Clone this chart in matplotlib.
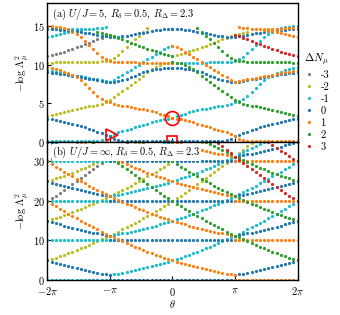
import numpy as np
import matplotlib.pyplot as plt
from matplotlib.lines import Line2D

plt.rcParams['font.family'] = 'serif'
plt.rcParams['font.serif'] = ['cmr10']
plt.rcParams['mathtext.fontset'] = 'cm'
plt.rcParams['axes.formatter.use_mathtext'] = True
plt.rcParams['font.size'] = 7.5

SECTORS = [-3, -2, -1, 0, 1, 2, 3]
COLORS = ['#7f7f7f', '#bcbd22', '#17becf', '#1f77b4', '#ff7f0e', '#2ca02c', '#d62728']
STEPS = 15  # samples per pi

# ---- panel (b): U/J = inf ----
# flat levels around each sector centre (theta = 2 pi dN)
flat_b = [0, 10, 20, 30]
# arc beyond the flat part, one value per step, starting at distance pi from the centre
arc_b = [1.25, 1.42, 1.61, 1.80, 2.01, 2.22, 2.45, 2.69, 2.94, 3.20, 3.47, 3.76,
         4.05, 4.36, 4.67, 5.00, 5.34, 5.69, 6.05, 6.42, 6.81, 7.20, 7.61, 8.02,
         8.45, 8.89, 9.34, 9.80, 10.27, 10.76, 11.25, 11.76, 12.27, 12.80, 13.34,
         13.89, 14.45, 15.02, 15.61, 16.20, 16.81, 17.42, 18.05, 18.69, 19.34,
         20.00, 20.67, 21.36, 22.05, 22.76, 23.47, 24.20, 24.94, 25.69, 26.45,
         27.22, 28.01, 28.80, 29.61, 30.42, 31.25, 32.09, 32.94, 33.80, 34.67, 35.56]

# ---- panel (a): U/J = 5 ----
# left half only (theta = -2pi + k*pi/15, k from the start index); right half by symmetry
a_cyan_low = [0.03, 0.03, 0.03, 0.03, 0.03, 0.03, 0.03, 0.03, 0.03, 0.03, 0.03,
              0.05, 0.1, 0.2, 0.4, 0.75, 1.05, 1.2, 1.35, 1.5, 1.7, 1.85, 2.05,
              2.2, 2.35, 2.5, 2.65, 2.8, 2.9, 3.0, 3.1]
a_blue_low = [3.0, 2.9, 2.78, 2.66, 2.55, 2.42, 2.3, 2.17, 2.03, 1.86, 1.7, 1.5,
              1.3, 1.1, 0.9, 0.75, 0.4, 0.2, 0.1, 0.05, 0.03, 0.03, 0.03, 0.03,
              0.03, 0.03, 0.03, 0.03, 0.03, 0.03, 0.03]
a_yellow_low = [3.4, 3.5, 3.6, 3.75, 3.85, 3.95, 4.1, 4.2, 4.35, 4.5, 4.6, 4.7,
                4.8, 4.95, 5.1, 5.4, 5.8, 6.2, 6.6, 7.0, 7.4, 7.8, 8.2, 8.6,
                9.0, 9.4, 9.7, 10.0, 10.2, 10.3, 10.4]
a_yellow_mid = [10.2, 10.3, 10.35, 10.4, 10.4, 10.4, 10.4, 10.4, 10.4, 10.4,
                10.4, 10.4, 10.4, 10.45, 10.5, 10.6, 10.9, 11.3, 11.8, 12.3,
                12.8, 13.3, 13.8, 14.3, 14.8]
a_orange_mid = [9.7, 9.6, 9.5, 9.3, 9.1, 8.9, 8.7, 8.4, 8.0, 7.5, 7.0, 6.5, 6.0,
                5.6, 5.3, 5.1, 4.95, 4.8, 4.7, 4.6, 4.5, 4.4, 4.3, 4.2, 4.1,
                3.95, 3.8, 3.65, 3.5, 3.3, 3.1]
a_blue_mid = [9.0, 8.95, 8.9, 8.85, 8.8, 8.7, 8.6, 8.5, 8.4, 8.3, 8.2, 8.1, 8.0,
              7.9, 7.8, 7.7, 7.8, 7.9, 8.0, 8.2, 8.4, 8.6, 8.8, 9.0, 9.15, 9.3,
              9.4, 9.5, 9.55, 9.6, 9.6]
a_cyan_mid = [9.3, 9.2, 9.1, 9.0, 8.9, 8.8, 8.7, 8.6, 8.5, 8.4, 8.3, 8.2, 8.1,
              8.0, 7.9, 7.8, 8.05, 8.35, 8.7, 9.0, 9.35, 9.7, 10.0, 10.35, 10.7,
              11.0, 11.35, 11.7, 12.0, 12.3, 12.5]
a_gray = [11.1, 11.25, 11.4, 11.55, 11.7, 11.9, 12.1, 12.3, 12.5, 12.7, 12.9,
          13.1, 13.3, 13.5, 13.7, 13.9]
a_orange_top = [15.0, 15.0, 14.95, 14.9, 14.8, 14.6, 14.3, 14.0, 13.6, 13.1, 12.6,
                12.0, 11.5, 11.0, 10.7, 10.5, 10.4, 10.4, 10.4, 10.4, 10.35,
                10.35, 10.3, 10.3, 10.3, 10.3, 10.3, 10.3, 10.3, 10.3, 10.3]
a_green_upper = [14.3, 14.1, 14.0, 13.9, 13.7, 13.5, 13.3, 13.1, 12.9, 12.7, 12.5,
                 12.3, 12.1, 11.9, 11.75, 11.6, 11.45, 11.3, 11.2]
a_blue_top = [14.6, 14.6, 14.6, 14.55, 14.5, 14.5, 14.4, 14.35, 14.3, 14.2, 14.1,
              14.0, 13.9, 13.8, 13.7, 13.6, 13.6, 13.65, 13.7, 13.8, 13.9, 14.0,
              14.1, 14.2, 14.3, 14.4, 14.5, 14.55, 14.6, 14.65, 14.7]
a_cyan_top = [14.9, 14.85, 14.8, 14.75, 14.7, 14.65, 14.6, 14.6, 14.6, 14.6, 14.65,
              14.7, 14.75, 14.8, 14.9]
a_cyan_13 = [13.6, 13.75, 13.9, 14.05, 14.2, 14.3, 14.4, 14.45, 14.5]

# (sector, first index k, values)
a_branches = [(-1, 0, a_cyan_low), (0, 0, a_blue_low), (-2, 0, a_yellow_low),
              (-2, 0, a_yellow_mid), (1, 0, a_orange_mid), (0, 0, a_blue_mid),
              (-1, 0, a_cyan_mid), (-3, 0, a_gray), (1, 0, a_orange_top),
              (2, 12, a_green_upper), (0, 0, a_blue_top), (-1, 0, a_cyan_top),
              (-1, 0, a_cyan_13)]


def build_b():
    pts = {n: ([], []) for n in SECTORS}
    for n in SECTORS:
        for lev in flat_b:
            for i in range(-2 * STEPS, 2 * STEPS + 1):
                dist = abs(i - 2 * STEPS * n)
                if dist <= STEPS:
                    pts[n][0].append(i / STEPS)
                    pts[n][1].append(lev)
                if dist >= STEPS and dist - STEPS < len(arc_b):
                    pts[n][0].append(i / STEPS)
                    pts[n][1].append(lev + arc_b[dist - STEPS])
    return pts


def build_a():
    pts = {n: ([], []) for n in SECTORS}
    for n, start, vals in a_branches:
        for k, v in enumerate(vals):
            th = -2 + (start + k) / STEPS
            pts[n][0].append(th)
            pts[n][1].append(v)
            pts[-n][0].append(-th)
            pts[-n][1].append(v)
    return pts


fig = plt.figure(figsize=(3.4, 3.15), dpi=100)
ax_a = fig.add_axes([0.1397, 0.5502, 0.7353, 0.4393])
ax_b = fig.add_axes([0.1397, 0.1111, 0.7353, 0.4391])

for ax, pts in [(ax_a, build_a()), (ax_b, build_b())]:
    for n, c in zip(SECTORS, COLORS):
        x, y = pts[n]
        ax.plot(np.array(x) * np.pi, y, 'o', color=c, ms=2.3, mew=0, zorder=2)
    ax.set_xlim(-2 * np.pi, 2 * np.pi)
    ax.set_xticks([-2 * np.pi, -np.pi, 0, np.pi, 2 * np.pi])
    ax.tick_params(direction='in', length=3, width=0.8, labelsize=7.5)
    ax.tick_params(axis='y', pad=2)
    ax.tick_params(axis='x', pad=4)
    for s in ax.spines.values():
        s.set_linewidth(1.0)
    ax.set_ylabel(r'$-\log\,\Lambda_\mu^2$', labelpad=2)

ax_a.set_ylim(0, 18)
ax_a.set_yticks([0, 5, 10, 15])
ax_a.set_xticklabels([])
ax_b.set_ylim(0, 35)
ax_b.set_yticks([0, 10, 20, 30])
ax_b.set_xticklabels([r'$-2\pi$', r'$-\pi$', r'$0$', r'$\pi$', r'$2\pi$'])
ax_b.set_xlabel(r'$\theta$', labelpad=0)

ax_a.text(0.02, 0.975, r'(a) $U/J=5,\,R_\delta=0.5,\,R_\Delta=2.3$', transform=ax_a.transAxes,
          va='top', ha='left', fontsize=7.5, zorder=5,
          bbox=dict(fc='white', ec='none', pad=0.5))
ax_b.text(0.02, 0.975, r'(b) $U/J=\infty,\,R_\delta=0.5,\,R_\Delta=2.3$', transform=ax_b.transAxes,
          va='top', ha='left', fontsize=7.5, zorder=5,
          bbox=dict(fc='white', ec='none', pad=0.5))

# highlighted points
ax_a.plot(0, 3.1, 'o', ms=10, mfc='none', mec='red', mew=1.2, zorder=6)
ax_a.plot(-0.97 * np.pi, 0.85, '>', ms=8, mfc='none', mec='red', mew=1.2, zorder=6)
ax_a.plot(0, 0.1, 's', ms=6.5, mfc='none', mec='red', mew=1.2, zorder=6, clip_on=False)

handles = [Line2D([], [], ls='none', marker='o', ms=2.3, mew=0, color=c) for c in COLORS]
fig.legend(handles, [str(n) for n in SECTORS], title=r'$\Delta N_\mu$', loc='upper left',
           bbox_to_anchor=(0.872, 0.86), frameon=False, fontsize=7.5, title_fontsize=8,
           handlelength=1.0, handletextpad=0.6, labelspacing=0.24, borderpad=0.2)

fig.savefig('out.png', dpi=100)
